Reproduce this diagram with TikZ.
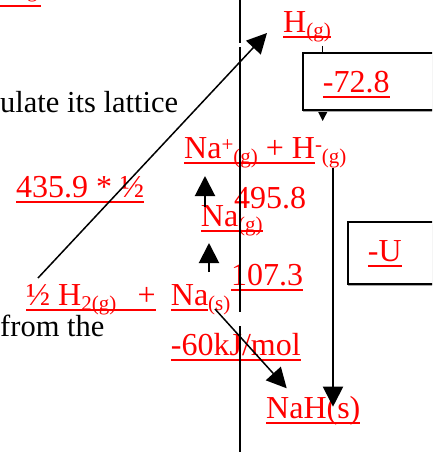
\documentclass[tikz,border=0pt]{standalone}
\usepackage{fontspec}
\setmainfont{Liberation Serif}
\usetikzlibrary{arrows.meta,shadows}
\newsavebox\ulbox
\newcommand{\ulx}[1]{\sbox\ulbox{#1}\rlap{\rule[-5.5pt]{\wd\ulbox}{2pt}}\usebox\ulbox}
\newcommand{\subtx}[1]{\raisebox{-5pt}{\fontsize{21}{21}\selectfont #1}}
\newcommand{\suptx}[1]{\raisebox{7pt}{\fontsize{21}{21}\selectfont #1}}
\begin{document}
\begin{tikzpicture}[x=1pt,y=-1pt,every node/.style={inner sep=0pt,anchor=base west},
  rt/.style={text=red,font=\fontsize{32}{38}\selectfont}, bt/.style={font=\fontsize{30.5}{36}\selectfont},
  bx/.style={draw,line width=2pt,fill=white,anchor=north west,minimum width=160pt,drop shadow={shadow xshift=0pt,shadow yshift=-2pt,fill=black!35,opacity=1}},
  ar/.style={-{Triangle[length=20pt,width=20pt]}}]
\useasboundingbox (0,0) rectangle (432,452); \clip (0,0) rectangle (432,452);
\node[bt] (ul) at (0,112) {ulate its lattice}; \node[bt] (ft) at (0,336) {from the};
\node[rt] (frag) at (0,1.5) {\ulx{\hspace{27pt}\raisebox{4pt}{\fontsize{21}{21}\selectfont g}\hspace{3pt}}};
\node[rt] (hg) at (283,33) {\ulx{H\subtx{(g)}}};
\node[rt] (nap) at (184,158) {\ulx{Na\suptx{+}\subtx{(g)} + H}\suptx{-}\subtx{(g)}};
\node[rt] (lh) at (16,197) {\ulx{435.9 * ½}}; \node[rt] (ie) at (234,208) {495.8};
\node[rt] (nag) at (200.7,226.7) {\ulx{Na\subtx{(g)}}}; \node[rt] (at) at (231,285) {\ulx{107.3}};
\node[rt] (hhalf) at (26,305) {\ulx{½ H\subtx{2(g)}\ \ \,+}}; \node[rt] (nas) at (170.7,305) {\ulx{Na}\subtx{(s)}};
\node[rt] (fe) at (170.7,355) {\ulx{-60kJ/mol}}; \node[rt] (nah) at (266,418.3) {\ulx{NaH(s)}};
\draw[ar,line width=1.5pt] ([shift={(39.7pt,-13pt)}]hg.base west) -- ([shift={(138.7pt,37pt)}]nap.base west);
\node[bx,minimum height=56.7pt] (b1) at (302.3,52.3) {}; \node[rt] (dh) at (322.7,92.7) {\ulx{-72.8}};
\node[bx,minimum height=62.3pt] (b2) at (346.7,220.7) {}; \node[rt] (lu) at (367.7,261.7) {\ulx{-U}};
\draw[ar,line width=1.5pt] ([shift={(12pt,27pt)}]hhalf.base west) -- ([xshift=-16pt]hg.base west);
\draw[ar,line width=2pt] ([shift={(4.3pt,19.7pt)}]nag.base west) -- ([shift={(21pt,-18pt)}]nap.base west);
\draw[ar,line width=2pt] ([shift={(38.3pt,33pt)}]nas.base west) -- ([shift={(8.3pt,-16.3pt)}]nag.base west);
\draw[ar,line width=1.5pt] ([shift={(44.3pt,-4pt)}]nas.base west) -- ([shift={(20.7pt,30pt)}]nah.base west);
\draw[ar,line width=2pt] ([shift={(149pt,-10pt)}]nap.base west) -- ([shift={(67pt,11.6pt)}]nah.base west);
\draw[line width=2pt] (240,0) -- (240,43) (240,47) -- (240,312) (240,326) -- (240,452);
\end{tikzpicture}
\end{document}
